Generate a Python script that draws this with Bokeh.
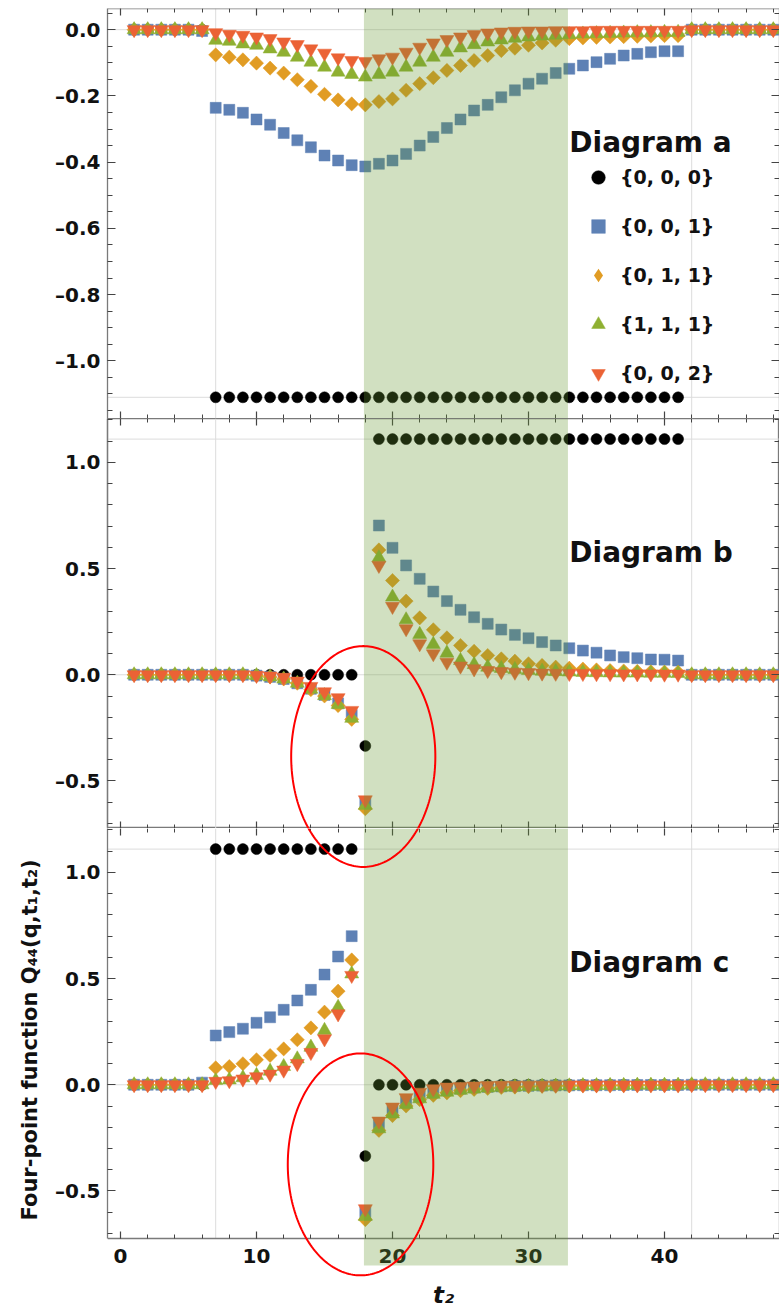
import numpy as np
from bokeh.plotting import figure
from bokeh.layouts import column
from bokeh.models import (Range1d, LinearAxis, FixedTicker, Span, BoxAnnotation, Title,
                          PolyAnnotation, Label, Legend, LegendItem, CustomLabelingPolicy)
from bokeh.embed import file_html
from bokeh.resources import INLINE

# ---------------- data ----------------
T2 = list(range(1, 49))
SERIES = ["{0, 0, 0}", "{0, 0, 1}", "{0, 1, 1}", "{1, 1, 1}", "{0, 0, 2}"]

# Diagram a
A_000 = [0, 0, 0, 0, 0, 0,
         -1.11, -1.11, -1.11, -1.11, -1.11, -1.11, -1.11, -1.11, -1.11, -1.11,
         -1.11, -1.11, -1.11, -1.11, -1.11, -1.11, -1.11, -1.11, -1.11, -1.11,
         -1.11, -1.11, -1.11, -1.11, -1.11, -1.11, -1.11, -1.11, -1.11, -1.11,
         -1.11, -1.11, -1.11, -1.11, -1.11,
         0, 0, 0, 0, 0, 0, 0]
A_001 = [0, 0, 0, 0, 0, -0.004,
         -0.236, -0.242, -0.251, -0.271, -0.287, -0.312, -0.334, -0.355, -0.380, -0.395,
         -0.409, -0.413, -0.405, -0.395, -0.375, -0.350, -0.324, -0.297, -0.271, -0.244,
         -0.227, -0.204, -0.183, -0.163, -0.148, -0.131, -0.118, -0.108, -0.098, -0.088,
         -0.078, -0.073, -0.068, -0.065, -0.065,
         0, 0, 0, 0, 0, 0, 0]
A_011 = [0, 0, 0, 0, 0, 0,
         -0.076, -0.083, -0.091, -0.101, -0.116, -0.131, -0.151, -0.171, -0.195, -0.212,
         -0.224, -0.227, -0.217, -0.209, -0.183, -0.163, -0.145, -0.123, -0.108, -0.093,
         -0.078, -0.063, -0.056, -0.047, -0.040, -0.032, -0.027, -0.025, -0.023, -0.022,
         -0.021, -0.020, -0.019, -0.018, -0.018,
         0, 0, 0, 0, 0, 0, 0]
A_111 = [0, 0, 0, 0, 0, 0,
         -0.032, -0.035, -0.043, -0.047, -0.058, -0.068, -0.083, -0.098, -0.113, -0.128,
         -0.135, -0.143, -0.135, -0.128, -0.113, -0.098, -0.083, -0.068, -0.055, -0.045,
         -0.037, -0.031, -0.026, -0.022, -0.019, -0.017, -0.015, -0.013, -0.012, -0.011,
         -0.010, -0.009, -0.009, -0.008, -0.008,
         0, 0, 0, 0, 0, 0, 0]
A_002 = [0, 0, 0, 0, 0, 0,
         -0.009, -0.014, -0.017, -0.022, -0.027, -0.037, -0.045, -0.058, -0.071, -0.085,
         -0.093, -0.096, -0.088, -0.083, -0.068, -0.053, -0.040, -0.030, -0.022, -0.015,
         -0.010, -0.007, -0.005, -0.004, -0.004, -0.003, -0.003, -0.003, -0.002, -0.002,
         -0.002, -0.002, -0.002, -0.002, -0.002,
         0, 0, 0, 0, 0, 0, 0]

# Diagram b
B_000 = [0, 0, 0, 0, 0, 0, 0, 0, 0, 0,
         0, 0, 0, 0, 0, 0, 0, -0.335,
         1.11, 1.11, 1.11, 1.11, 1.11, 1.11, 1.11, 1.11,
         1.11, 1.11, 1.11, 1.11, 1.11, 1.11, 1.11, 1.11, 1.11, 1.11,
         1.11, 1.11, 1.11, 1.11, 1.11,
         0, 0, 0, 0, 0, 0, 0]
B_001 = [0, 0, 0, 0, 0, 0, 0, 0, 0, -0.004,
         -0.010, -0.020, -0.040, -0.066, -0.095, -0.135, -0.190, -0.604,
         0.703, 0.598, 0.515, 0.452, 0.392, 0.347, 0.306, 0.271,
         0.240, 0.213, 0.188, 0.172, 0.154, 0.138, 0.125, 0.114, 0.104, 0.091,
         0.083, 0.078, 0.072, 0.071, 0.067,
         0, 0, 0, 0, 0, 0, 0]
B_011 = [0, 0, 0, 0, 0, 0, 0, 0, 0, -0.004,
         -0.010, -0.020, -0.040, -0.070, -0.100, -0.145, -0.210, -0.631,
         0.588, 0.444, 0.347, 0.268, 0.212, 0.174, 0.138, 0.111,
         0.091, 0.075, 0.064, 0.052, 0.044, 0.036, 0.031, 0.027, 0.023, 0.020,
         0.018, 0.016, 0.014, 0.013, 0.012,
         0, 0, 0, 0, 0, 0, 0]
B_111 = [0, 0, 0, 0, 0, 0, 0, 0, 0, -0.004,
         -0.010, -0.020, -0.040, -0.068, -0.098, -0.140, -0.205, -0.615,
         0.551, 0.366, 0.259, 0.190, 0.143, 0.102, 0.067, 0.048,
         0.036, 0.030, 0.025, 0.020, 0.017, 0.015, 0.013, 0.011, 0.010, 0.009,
         0.008, 0.008, 0.007, 0.007, 0.006,
         0, 0, 0, 0, 0, 0, 0]
B_002 = [0, 0, 0, 0, 0, 0, 0, 0, 0, -0.003,
         -0.006, -0.012, -0.030, -0.055, -0.080, -0.108, -0.168, -0.589,
         0.515, 0.322, 0.217, 0.146, 0.099, 0.059, 0.041, 0.028,
         0.020, 0.015, 0.012, 0.010, 0.008, 0.007, 0.006, 0.006, 0.005, 0.005,
         0.004, 0.004, 0.004, 0.003, 0.003,
         0, 0, 0, 0, 0, 0, 0]

# Diagram c
C_000 = [0, 0, 0, 0, 0, 0,
         1.11, 1.11, 1.11, 1.11, 1.11, 1.11, 1.11, 1.11, 1.11, 1.11, 1.11, -0.336,
         0, 0, 0, 0, 0, 0, 0, 0,
         0, 0, 0, 0, 0, 0, 0, 0, 0, 0,
         0, 0, 0, 0, 0,
         0, 0, 0, 0, 0, 0, 0]
C_001 = [0, 0, 0, 0, 0, 0.010,
         0.232, 0.248, 0.264, 0.292, 0.318, 0.353, 0.397, 0.447, 0.519, 0.604, 0.700, -0.600,
         -0.190, -0.125, -0.080, -0.055, -0.035, -0.025, -0.018, -0.013,
         -0.010, -0.008, -0.006, -0.005, -0.004, -0.003, -0.003, -0.002, -0.002, -0.002,
         -0.001, -0.001, -0.001, -0.001, -0.001,
         0, 0, 0, 0, 0, 0, 0]
C_011 = [0, 0, 0, 0, 0, 0,
         0.080, 0.086, 0.099, 0.118, 0.138, 0.169, 0.212, 0.268, 0.342, 0.441, 0.588, -0.635,
         -0.215, -0.145, -0.100, -0.070, -0.050, -0.038, -0.028, -0.022,
         -0.017, -0.013, -0.011, -0.009, -0.007, -0.006, -0.005, -0.004, -0.004, -0.003,
         -0.003, -0.002, -0.002, -0.002, -0.002,
         0, 0, 0, 0, 0, 0, 0]
C_111 = [0, 0, 0, 0, 0, 0,
         0.020, 0.023, 0.033, 0.044, 0.064, 0.086, 0.122, 0.177, 0.256, 0.365, 0.522, -0.620,
         -0.207, -0.137, -0.093, -0.066, -0.045, -0.035, -0.026, -0.020,
         -0.015, -0.012, -0.010, -0.008, -0.007, -0.006, -0.005, -0.004, -0.004, -0.003,
         -0.003, -0.002, -0.002, -0.002, -0.002,
         0, 0, 0, 0, 0, 0, 0]
C_002 = [0, 0, 0, 0, 0, 0,
         0.016, 0.019, 0.027, 0.038, 0.050, 0.069, 0.100, 0.152, 0.216, 0.334, 0.515, -0.584,
         -0.171, -0.105, -0.061, -0.035, -0.019, -0.011, -0.008, -0.006,
         -0.004, -0.003, -0.003, -0.002, -0.002, -0.002, -0.001, -0.001, -0.001, -0.001,
         -0.001, -0.001, -0.001, -0.001, -0.001,
         0, 0, 0, 0, 0, 0, 0]

PANELS = [
    ("Diagram a", [A_000, A_001, A_011, A_111, A_002]),
    ("Diagram b", [B_000, B_001, B_011, B_111, B_002]),
    ("Diagram c", [C_000, C_001, C_011, C_111, C_002]),
]

# ticks / labels
XTICKS = [0, 10, 20, 30, 40]
XLABELS = ["0", "10", "20", "30", "40"]
XMINOR = list(range(0, 50, 2))
YTICKS_A = [-1.0, -0.8, -0.6, -0.4, -0.2, 0.0]
YLABELS_A = ["\u20131.0", "\u20130.8", "\u20130.6", "\u20130.4", "\u20130.2", "0.0"]
YMINOR_A = [round(-1.15 + 0.05 * i, 2) for i in range(25)]
YTICKS_BC = [-0.5, 0.0, 0.5, 1.0]
YLABELS_BC = ["\u20130.5", "0.0", "0.5", "1.0"]
YMINOR_BC = [round(-0.7 + 0.1 * i, 1) for i in range(20)]
Y_TITLE = "Four-point function Q\u2084\u2084(q,t\u2081,t\u2082)"
X_TITLE = "t\u2082"

GRID_X = [7, 42]
GRID_Y = [[0.0, -1.11], [0.0, 1.11], [0.0, 1.11]]
SHADE = (17.9, 32.9)

# ---------------- styling ----------------
FONT = "DejaVu Sans"
FRAME_W, FRAME_H = 672, 410
BOTTOM_EXTRA = 76          # px of the last panel reserved below its frame line
SHADE_BELOW = 27           # px the shaded window reaches below the last frame line
Y_TITLE_OFFSET = 94        # px from the bottom of the last frame to the start of the y title
XR = (-0.956, 48.456)
YRANGES = [(-1.174, 0.064), (-0.724, 1.207), (-0.724, 1.207)]
LABEL_Y = [-0.34, 0.577, 0.577]
LABEL_X = 33.0
COLORS = ["#000000", "#5E81B5", "#E19C24", "#8FB032", "#EB6235"]
MARKERS = [("circle", 11, 0.0), ("square", 11, 0.0), ("square", 10, np.pi / 4),
           ("triangle", 14, 0.0), ("inverted_triangle", 14, 0.0)]
TICK_COLOR = "#444444"
FRAME_COLOR = "#7a7a7a"
GRID_COLOR = "#dcdcdc"
SHADE_RGB = (102, 153, 51)

# red ellipses: (cx, cy in panel-b units, width, height) and (cx, cy in panel-c units, w, h)
ELL1 = (17.85, -0.385, 10.6, 1.04)
ELL2 = (17.65, -0.375, 10.7, 1.045)
THETA = np.linspace(0, 2 * np.pi, 241)

HIDE_LABELS = "for (const i of Array.from(indices)) { indices.unset(i) }\nreturn indices"


def ellipse_xy(cx, cy, w, h):
    return list(cx + 0.5 * w * np.cos(THETA)), list(cy + 0.5 * h * np.sin(THETA))


def style_axis(ax, with_labels, major_in, minor_in, standoff):
    ax.major_tick_in = major_in
    ax.major_tick_out = 0
    ax.minor_tick_in = minor_in
    ax.minor_tick_out = 0
    ax.major_tick_line_color = TICK_COLOR
    ax.minor_tick_line_color = TICK_COLOR
    ax.major_tick_line_width = 1.2
    ax.minor_tick_line_width = 1
    if with_labels:
        ax.major_label_text_font = FONT
        ax.major_label_text_font_style = "bold"
        ax.major_label_text_font_size = "20px"
        ax.major_label_text_color = "#111111"
        ax.major_label_standoff = standoff
    else:
        ax.major_label_text_font_size = "1px"
        ax.major_label_standoff = 0
        ax.major_label_policy = CustomLabelingPolicy(code=HIDE_LABELS)
    return ax


def x_axis(with_labels, line_color=None, fixed=None):
    ax = LinearAxis(ticker=FixedTicker(ticks=XTICKS, minor_ticks=XMINOR),
                    major_label_overrides={t: l for t, l in zip(XTICKS, XLABELS)},
                    axis_line_color=line_color, axis_line_width=1.3)
    if fixed is not None:
        ax.fixed_location = fixed
    return style_axis(ax, with_labels, 7, 4, 10)


def y_axis(ticks, labels, minor, with_labels, line_color=None, bounds="auto", fixed=None):
    ax = LinearAxis(ticker=FixedTicker(ticks=ticks, minor_ticks=minor),
                    major_label_overrides={t: l for t, l in zip(ticks, labels)},
                    axis_line_color=line_color, axis_line_width=1.3, bounds=bounds)
    if fixed is not None:
        ax.fixed_location = fixed
    return style_axis(ax, with_labels, 8, 5, 7)


figs = []
for k, (title, series) in enumerate(PANELS):
    yr = YRANGES[k]
    last = (k == 2)
    px_per_unit = FRAME_H / (yr[1] - yr[0])
    if last:
        y_range = Range1d(yr[0] - BOTTOM_EXTRA / px_per_unit, yr[1])
        fh = FRAME_H + BOTTOM_EXTRA
    else:
        y_range = Range1d(*yr)
        fh = FRAME_H
    p = figure(frame_width=FRAME_W, frame_height=fh,
               x_range=Range1d(*XR), y_range=y_range,
               x_axis_location=None, y_axis_location=None,
               output_backend="svg", toolbar_location=None,
               min_border=0, min_border_left=107, min_border_right=0,
               min_border_top=8 if k == 0 else 0, min_border_bottom=0,
               background_fill_color="white", border_fill_color="white",
               outline_line_color=FRAME_COLOR if k == 1 else None,
               outline_line_width=1.3)
    p.xgrid.visible = False
    p.ygrid.visible = False

    # grid lines
    p.segment(x0=GRID_X, y0=[yr[0]] * len(GRID_X), x1=GRID_X, y1=[yr[1]] * len(GRID_X),
              line_color=GRID_COLOR, line_width=1, level="underlay")
    for gy in GRID_Y[k]:
        p.add_layout(Span(location=gy, dimension="width", line_color=GRID_COLOR,
                          line_width=1, level="underlay"))

    # data
    rends = []
    for vals, col, (mk, sz, ang) in zip(series, COLORS, MARKERS):
        r = p.scatter(x=T2, y=vals, marker=mk, size=sz, angle=ang,
                      fill_color=col, line_color=col, line_width=0.5)
        rends.append(r)

    # shaded window
    if last:
        shade = BoxAnnotation(left=SHADE[0], right=SHADE[1],
                              bottom=yr[0] - SHADE_BELOW / px_per_unit,
                              fill_color=SHADE_RGB, fill_alpha=0.3, line_color=None)
    else:
        shade = BoxAnnotation(left=SHADE[0], right=SHADE[1],
                              fill_color=SHADE_RGB, fill_alpha=0.3, line_color=None)
    p.add_layout(shade)

    # frame edges come from the axis lines / the middle panel's outline
    yt = YTICKS_A if k == 0 else YTICKS_BC
    yl = YLABELS_A if k == 0 else YLABELS_BC
    ym = YMINOR_A if k == 0 else YMINOR_BC
    left = y_axis(yt, yl, ym, True, line_color=FRAME_COLOR, bounds=yr)
    right = y_axis(yt, yl, ym, False, line_color=FRAME_COLOR, bounds=yr, fixed=XR[1])
    top = x_axis(False, line_color=FRAME_COLOR if k == 0 else None, fixed=yr[1])
    bottom = x_axis(last, line_color=FRAME_COLOR if last else None, fixed=yr[0])
    p.add_layout(left, "left")
    p.add_layout(right, "right")
    p.add_layout(top, "above")
    p.add_layout(bottom, "below")

    # panel label
    p.add_layout(Label(x=LABEL_X, y=LABEL_Y[k], text=title, text_font=FONT,
                       text_font_style="bold", text_font_size="28px",
                       text_color="#111111", text_baseline="alphabetic"))

    # red ellipses
    ell_style = dict(fill_color=None, fill_alpha=0, line_color="#ff0000",
                     line_alpha=1.0, line_width=2)
    if k == 1:
        xs, ys = ellipse_xy(*ELL1)
        p.add_layout(PolyAnnotation(xs=xs, ys=ys, **ell_style))
    if last:
        shift = YRANGES[1][1] - YRANGES[1][0]
        cx, cy, w, h = ELL1
        xs, ys = ellipse_xy(cx, cy + shift, w, h)
        p.add_layout(PolyAnnotation(xs=xs, ys=ys, **ell_style))
        xs, ys = ellipse_xy(*ELL2)
        p.add_layout(PolyAnnotation(xs=xs, ys=ys, **ell_style))

    if k == 0:
        # legend swatch for the diamond series (rotation is not applied in legends)
        diamond_proxy = p.scatter(x=T2, y=series[2], marker="diamond", size=0,
                                  fill_color=COLORS[2], line_color=None)
        legend_rends = [rends[0], rends[1], diamond_proxy, rends[3], rends[4]]
        legend = Legend(items=[LegendItem(label=s, renderers=[r])
                               for s, r in zip(SERIES, legend_rends)],
                        location=(474, 28), orientation="vertical",
                        glyph_width=34, glyph_height=34, label_height=34, spacing=15,
                        padding=0, margin=0, label_standoff=5,
                        border_line_color=None, background_fill_alpha=0,
                        label_text_font=FONT, label_text_font_style="bold",
                        label_text_font_size="19px", label_text_color="#111111")
        p.add_layout(legend)

    if last:
        # y title in the left panel, starting above the extended part of the frame
        p.add_layout(Title(text=Y_TITLE, align="left", offset=Y_TITLE_OFFSET,
                           standoff=21, text_font=FONT, text_font_style="bold",
                           text_font_size="21px", text_color="#111111"), "left")
        bottom.axis_label = X_TITLE
        bottom.axis_label_text_font = FONT
        bottom.axis_label_text_font_style = "bold italic"
        bottom.axis_label_text_font_size = "23px"
        bottom.axis_label_text_color = "#111111"
        bottom.axis_label_standoff = 16
    figs.append(p)

layout = column(*figs, spacing=0)
open("out.html", "w").write(file_html(layout, INLINE, title="Four-point function"))
